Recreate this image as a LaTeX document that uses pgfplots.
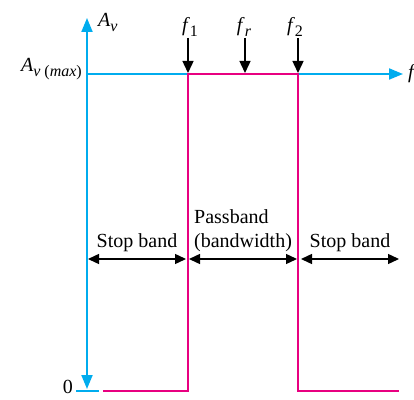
\documentclass[border=0pt]{standalone}
\usepackage{fontspec}
\setmainfont{Liberation Serif}
\usepackage{pgfplots}
\pgfplotsset{compat=1.18}
\usetikzlibrary{arrows.meta}
\definecolor{axcyan}{RGB}{0,172,238}
\definecolor{mag}{RGB}{232,0,128}
\newcommand{\sub}[1]{\raisebox{-0.45ex}{\fontsize{16}{18}\selectfont #1}}
\tikzset{lbl/.style={font=\fontsize{20}{24}\selectfont, inner sep=0pt}}
\begin{document}
\begin{tikzpicture}
\useasboundingbox (0,0) rectangle (414pt,399pt);
\begin{axis}[at={(0pt,0pt)}, anchor=south west, scale only axis,
  width=414pt, height=399pt, xmin=0, xmax=414, ymin=0, ymax=399,
  hide axis, clip=false]
% blue axes
\addplot[axcyan, line width=2pt, {Triangle[length=14pt,width=11pt]}-{Triangle[length=14pt,width=11pt]}] coordinates {(87,381) (87,10)};
\addplot[axcyan, line width=2pt, -{Triangle[length=14pt,width=11pt]}] coordinates {(87,325) (403,325)};
\addplot[axcyan, line width=2pt] coordinates {(76,8) (99,8)};
% magenta response
\addplot[mag, line width=2.5pt] coordinates {(103,8) (188,8) (188,325) (298,325) (298,8) (399,8)};
% frequency markers
\addplot[black, line width=1.4pt, -{Triangle[length=12pt,width=11pt]}] coordinates {(188,361) (188,326)};
\addplot[black, line width=1.4pt, -{Triangle[length=12pt,width=11pt]}] coordinates {(245,361) (245,326)};
\addplot[black, line width=1.4pt, -{Triangle[length=12pt,width=11pt]}] coordinates {(298,361) (298,326)};
% band arrows
\addplot[black, line width=1.4pt, {Triangle[length=11pt,width=10pt]}-{Triangle[length=11pt,width=10pt]}] coordinates {(88,140) (186,140)};
\addplot[black, line width=1.4pt, {Triangle[length=11pt,width=10pt]}-{Triangle[length=11pt,width=10pt]}] coordinates {(189,140) (297,140)};
\addplot[black, line width=1.4pt, {Triangle[length=11pt,width=10pt]}-{Triangle[length=11pt,width=10pt]}] coordinates {(301,140) (399,140)};
% labels
\node[lbl, anchor=base] at (axis cs:137,152) {Stop band};
\node[lbl, anchor=base west] at (axis cs:194,176) {Passband};
\node[lbl, anchor=base west] at (axis cs:194,152) {(bandwidth)};
\node[lbl, anchor=base] at (axis cs:350,152) {Stop band};
\node[lbl, anchor=base] at (axis cs:190,367) {\textit{f}\sub{1}};
\node[lbl, anchor=base] at (axis cs:244,367) {\textit{f}\sub{\textit{r}}};
\node[lbl, anchor=base] at (axis cs:295,367) {\textit{f}\sub{2}};
\node[lbl, anchor=base west] at (axis cs:98,372) {\textit{A}\sub{\textit{v}}};
\node[lbl, anchor=base east] at (axis cs:82,327) {\textit{A}\sub{\textit{v} (\textit{max})}};
\node[lbl, anchor=east] at (axis cs:73,12) {0};
\node[lbl, anchor=west] at (axis cs:408,325) {\textit{f}};
\end{axis}
\end{tikzpicture}
\end{document}
